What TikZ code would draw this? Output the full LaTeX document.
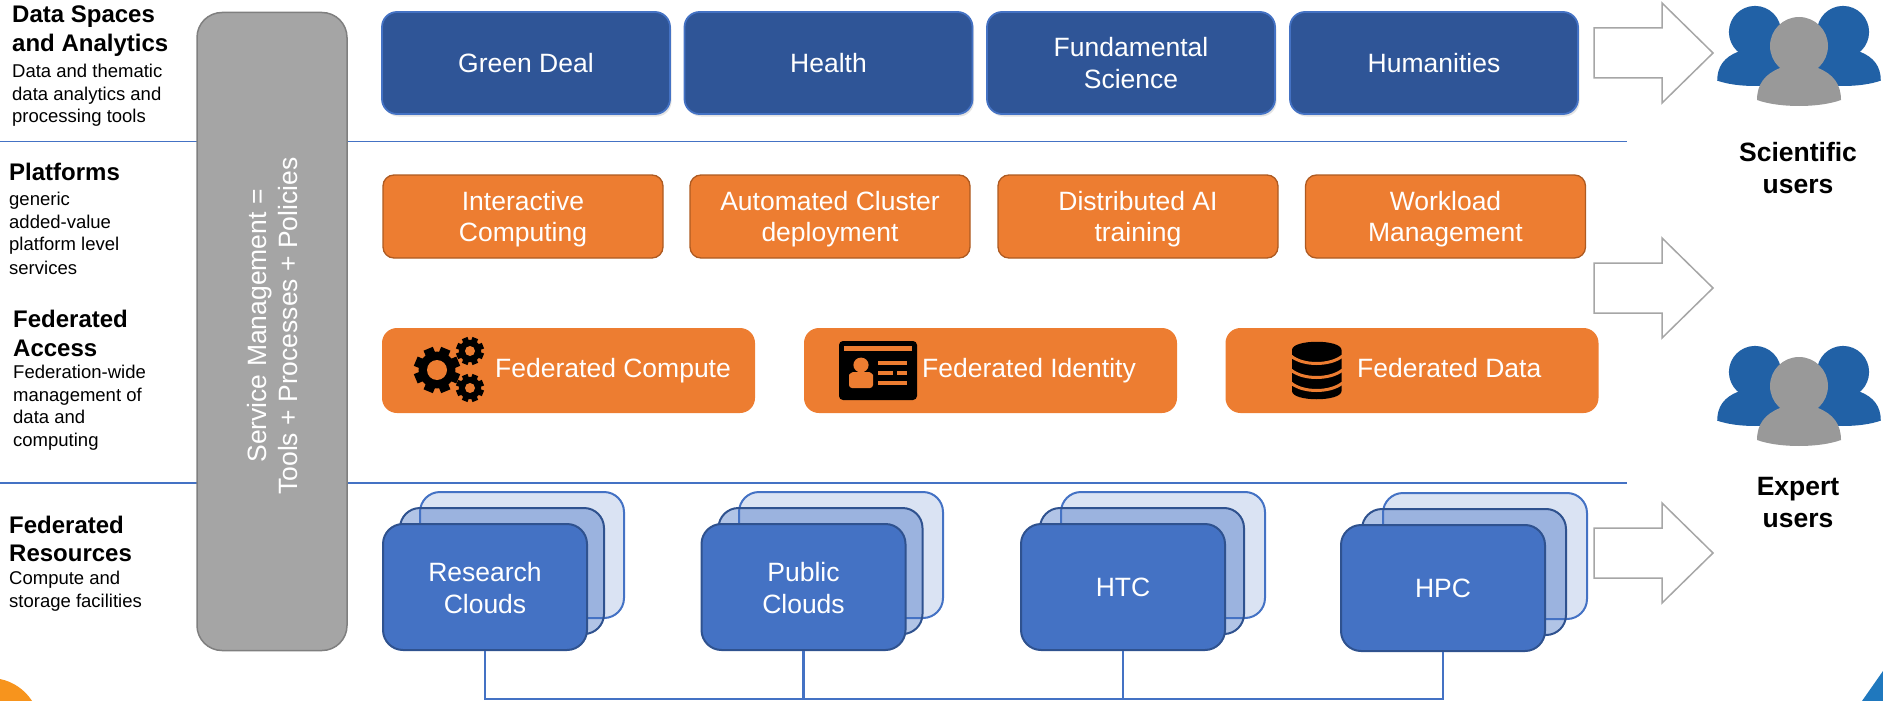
\documentclass[tikz,border=0pt]{standalone}
\usepackage{fontspec}
\usetikzlibrary{shadows}
\setmainfont{Liberation Sans}
\definecolor{navy}{HTML}{2F5597}
\definecolor{lineblue}{HTML}{4472C4}
\definecolor{darkblue}{HTML}{2F528F}
\definecolor{orng}{HTML}{ED7D31}
\definecolor{orngd}{HTML}{AE5A21}
\definecolor{svc}{HTML}{A5A5A5}
\definecolor{svcd}{HTML}{7F7F7F}
\definecolor{backb}{HTML}{DAE3F3}
\definecolor{pblue}{HTML}{2161A6}
\definecolor{pgray}{HTML}{999999}
\definecolor{arrowg}{HTML}{A6A6A6}
\definecolor{cornero}{HTML}{F7941D}
\definecolor{cornerb}{HTML}{1F78BE}
\newcommand{\bigfont}{\fontsize{26.5}{31.5}\selectfont}
\newcommand{\smallfont}{\fontsize{18.5}{22.6}\selectfont}
\newcommand{\headfont}{\fontsize{24}{28.6}\selectfont\bfseries}
\newcommand{\lowerA}{\rule{0pt}{24pt}}
\newcommand{\lowerB}{\rule{0pt}{21pt}}
\newcommand{\personicon}[4]{% cx, cy, scale, colour
  \begin{scope}[shift={(#1,#2)},scale=#3]
    \fill[#4] (0,0) circle[radius=29];
    \fill[#4] (-42,54) .. controls (-42,38) and (-34,28) .. (-19,22) -- (19,22)
      .. controls (34,28) and (42,38) .. (42,54)
      .. controls (20,62) and (-20,62) .. (-42,54) -- cycle;
  \end{scope}}
\newcommand{\usergroup}[1]{%
  \begin{scope}[yshift=#1]
    \personicon{1755}{32}{0.9}{pblue}
    \personicon{1843}{32}{0.9}{pblue}
    \personicon{1799}{46}{1}{pgray}
  \end{scope}}
\newcommand{\gearicon}[5]{% cx, cy, outer r, hole r, tooth half width
  \fill[black] (#1,#2) circle[radius=#3*0.8];
  \foreach \a in {0,45,...,315}{
    \fill[black,rotate around={\a+22.5:(#1,#2)}] ({#1+#3*0.6},{#2-#5}) rectangle ({#1+#3},{#2+#5});
  }
  \fill[orng] (#1,#2) circle[radius=#4];}
\tikzset{
  x=1pt,y=-1pt,
  txt/.style={inner sep=0pt,align=center,text=white,font=\bigfont},
  greenrow/.style={txt,draw=lineblue,line width=1.8pt,fill=navy,rounded corners=15pt,minimum width=288pt,minimum height=102pt,drop shadow={opacity=.22,shadow xshift=1.5pt,shadow yshift=-2.5pt}},
  platbox/.style={txt,draw=orngd,line width=1.3pt,fill=orng,rounded corners=11pt,minimum width=280pt,minimum height=83pt},
  fedbox/.style={txt,fill=orng,rounded corners=15pt,minimum width=373pt,minimum height=85pt},
  front/.style={txt,draw=darkblue,line width=2pt,fill=lineblue,rounded corners=20pt,minimum width=204pt,minimum height=126pt},
  middle/.style={draw=darkblue,line width=2pt,fill=lineblue,fill opacity=.42,rounded corners=20pt,minimum width=204pt,minimum height=126pt,inner sep=0pt},
  back/.style={draw=lineblue,line width=2pt,fill=backb,rounded corners=20pt,minimum width=204pt,minimum height=126pt,inner sep=0pt},
  bigarrow/.style={draw=arrowg,line width=1.5pt,fill=white},
  rule/.style={draw=lineblue,line width=1.6pt},
  bus/.style={draw=lineblue,line width=2.2pt},
  head/.style={anchor=north west,inner sep=0pt,align=left,font=\headfont},
  sub/.style={anchor=north west,inner sep=0pt,align=left,font=\smallfont},
  userlabel/.style={inner sep=0pt,align=center,font=\bigfont\bfseries},
}
\begin{document}
\begin{tikzpicture}
\useasboundingbox (0,0) rectangle (1883,701);
% corner decorations
\begin{scope}
  \clip (0,0) rectangle (1883,701);
  \fill[cornero] (-10,728) circle[radius=50];
  \fill[cornerb] (1862,701) -- (1883,671) -- (1883,701) -- cycle;
\end{scope}
% rules
\coordinate (r1a) at (0,141.5); \coordinate (r1b) at (1627,141.5);
\coordinate (r2a) at (0,483); \coordinate (r2b) at (1627,483);
\draw[rule] (r1a) -- (r1b);
\draw[rule] (r2a) -- (r2b);
% service management
\node[txt,draw=svcd,line width=1.5pt,fill=svc,rounded corners=25pt,minimum width=150pt,minimum height=638pt] (svcbox) at (272,331.5) {};
\node[txt,rotate=90] (svctxt) at (272.5,326) {Service Management =\\Tools + Processes + Policies};
% top row
\node[greenrow] (gd) at (526,63) {Green Deal};
\node[greenrow] (he) at (828.5,63) {Health};
\node[greenrow] (fs) at (1131,63) {Fundamental\\Science};
\node[greenrow] (hu) at (1434,63) {Humanities};
% platforms
\node[platbox] (ic) at (523,216.5) {\lowerA Interactive\\Computing};
\node[platbox] (ac) at (830,216.5) {\lowerA Automated Cluster\\deployment};
\node[platbox] (da) at (1138,216.5) {\lowerA Distributed AI\\training};
\node[platbox] (wm) at (1445.5,216.5) {\lowerA Workload\\Management};
% federated
\node[fedbox] (fc) at (568.5,370.5) {};
\node[fedbox] (fi) at (990.5,370.5) {};
\node[fedbox] (fd) at (1412,370.5) {};
\node[txt,anchor=west] (fct) at (495,371) {Federated Compute};
\node[txt,anchor=west] (fit) at (922,371) {Federated Identity};
\node[txt,anchor=west] (fdt) at (1357,368) {Federated Data};
% gears
\gearicon{437}{370}{23}{10}{5}
\gearicon{470}{351}{14}{5}{3}
\gearicon{470}{388}{14}{5}{3}
% id card
\fill[black,rounded corners=4pt] (839,341) rectangle (917,400);
\fill[orng] (844,346) rectangle (912,351);
\fill[orng] (861,365) ellipse[x radius=7.6,y radius=7.4];
\fill[orng,rounded corners=3pt] (849,388) -- (849,378) .. controls (849,374) and (853,372) .. (856,372) -- (866,372) .. controls (870,372) and (873,374) .. (873,378) -- (873,388) -- cycle;
\fill[orng] (877.5,361) rectangle (907,365);
\fill[orng] (877.5,371) rectangle (893,375);
\fill[orng] (897.4,371) rectangle (907,375);
\fill[orng] (877.5,381) rectangle (907,385);
% database
\fill[black] (1292,350) .. controls (1292,339) and (1341.5,339) .. (1341.5,350) -- (1341.5,391)
  .. controls (1341.5,402) and (1292,402) .. (1292,391) -- cycle;
\foreach \dy in {0,14,27}{
  \draw[orng,line width=3pt] (1291,{356+\dy}) .. controls (1303,{366+\dy}) and (1330,{366+\dy}) .. (1342.5,{356+\dy});
}
% resources
\foreach \nm/\cx/\cy/\mx/\bx/\lbl in {rc/485/587/17/37/{\lowerB Research\\Clouds}, pc/803.5/587/17/37.5/{\lowerB Public\\Clouds}, ht/1123/587/19/40/HTC, hp/1443/588/21/42/HPC}{
  \node[back] (\nm b) at (\cx+\bx,\cy-32) {};
  \node[middle] (\nm m) at (\cx+\mx,\cy-16) {};
  \node[front] (\nm) at (\cx,\cy) {\lbl};
}
\coordinate (busy) at (0,699);
\draw[bus] (rc.south) -- (rc.south |- busy) -- (hp.south |- busy) -- (hp.south);
\draw[bus] (pc.south) -- (pc.south |- busy);
\draw[bus] (ht.south) -- (ht.south |- busy);
% arrows
\foreach \c in {53,288,553}{
  \draw[bigarrow] (1594,\c-25) -- (1662,\c-25) -- (1662,\c-50) -- (1713,\c) -- (1662,\c+50) -- (1662,\c+25) -- (1594,\c+25) -- cycle;
}
% users
\usergroup{0pt}
\usergroup{-340pt}
\node[userlabel] (su) at (1798,168) {Scientific\\users};
\node[userlabel] (eu) at (1798,502.5) {Expert\\users};
% left labels
\node[head] (h1) at (12,6) {Data Spaces\\and Analytics};
\node[sub] (s1) at (12,64) {Data and thematic\\data analytics and\\processing tools};
\node[head] (h2) at (9,163) {Platforms};
\node[sub] (s2) at (9,192) {generic\\added-value\\platform level\\[1pt]services};
\node[head] (h3) at (13,310) {Federated\\Access};
\node[sub] (s3) at (13,365) {Federation-wide\\management of\\data and\\computing};
\node[head] (h4) at (9,515.5) {Federated\\Resources};
\node[sub] (s4) at (9,571) {Compute and\\storage facilities};
\end{tikzpicture}
\end{document}
